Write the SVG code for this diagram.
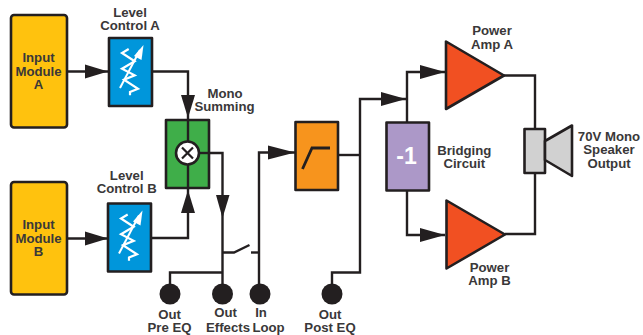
<svg xmlns="http://www.w3.org/2000/svg" width="643" height="335" viewBox="0 0 643 335">
<style>
text{font-family:"Liberation Sans",Arial,sans-serif;font-weight:bold;font-size:13.2px;fill:#3a3839;text-anchor:middle}
.b{stroke:#231f20;stroke-width:2.6;stroke-linejoin:round}
.w{fill:none;stroke:#231f20;stroke-width:2.4}
.a{fill:#231f20;stroke:none}
.j{fill:#231f20}
.r{fill:none;stroke:#fff;stroke-width:2.2}
</style>
<defs>
<g id="res">
<path class="r" d="M128.700 49L122 53L134.700 61.300L122 68.700L134.700 75.300L124 79.700L138 88.700L130 92V95.300"/>
<path d="M120 88L140 50" fill="none" stroke="#fff" stroke-width="2"/>
<path d="M143.500 45L141.500 60L134 56Z" fill="#fff"/>
</g>
</defs>
<g id="connectors">
<path class="w" d="M67 71.500H108"/><path class="a" d="M85 64.500L108 71.500L85 78.500Z"/>
<path class="w" d="M152 71.500H188V120"/><path class="a" d="M181 95H195L188 118Z"/>
<path class="w" d="M67 238.500H108"/><path class="a" d="M85 231.500L108 238.500L85 245.500Z"/>
<path class="w" d="M152 238H188V188"/><path class="a" d="M181 213H195L188 190Z"/>
<path class="w" d="M188 120V188"/>
<path class="w" d="M199 153H222.500V294"/><path class="a" d="M216 195H229.500L222.500 218Z"/>
<path class="w" d="M170 294V272.500H222.500"/>
<path class="w" d="M222.500 252.500H234L249.500 245"/>
<path class="w" d="M251 252.500H259"/>
<path class="w" d="M259 294V152.500H295"/><path class="a" d="M268 145.500L295 152.500L268 159.500Z"/>
<path class="w" d="M338 155H360"/>
<path class="w" d="M332 294V272.500H360V99H407"/><path class="a" d="M381 92L406 99L381 106Z"/>
<path class="w" d="M407 123V72H445"/><path class="a" d="M420 65L445 72L420 79Z"/>
<path class="w" d="M407 190V235H445"/><path class="a" d="M420 228L445 235L420 242Z"/>
<path class="w" d="M504 75.500H535V129"/>
<path class="w" d="M505 234H535V173"/>
</g>
<g id="input-a"><rect class="b" x="11" y="15" width="56" height="112.500" rx="3" fill="#ffc20e"/><text x="38.500" y="62">Input</text><text x="38.500" y="75.500">Module</text><text x="38.500" y="88.500">A</text></g>
<g id="input-b"><rect class="b" x="11" y="182" width="56" height="112.500" rx="3" fill="#ffc20e"/><text x="38.500" y="229">Input</text><text x="38.500" y="242.500">Module</text><text x="38.500" y="255.500">B</text></g>
<g id="level-a"><rect class="b" x="109" y="38" width="43" height="68" fill="#0096db"/><use href="#res"/><text x="130" y="17">Level</text><text x="130" y="29.500">Control A</text></g>
<g id="level-b"><rect class="b" x="108" y="203.500" width="43" height="68" fill="#0096db"/><use href="#res" x="-1" y="165.500"/><text x="126.700" y="180">Level</text><text x="126.700" y="193">Control B</text></g>
<g id="mono-summing"><rect class="b" x="166" y="120" width="43" height="68" fill="#3fae49"/><path class="w" d="M188 120V188"/><path class="w" d="M199 153H209"/><circle cx="187.500" cy="153" r="11.500" fill="#fff" stroke="#231f20" stroke-width="2.600"/><path d="M182 147.500L193 158.500M193 147.500L182 158.500" stroke="#231f20" stroke-width="2.200"/><text x="225" y="98">Mono</text><text x="224.500" y="111">Summing</text></g>
<g id="eq"><rect class="b" x="295.500" y="122" width="42.500" height="68" fill="#f7941d"/><path d="M302.500 169L312 148H330" fill="none" stroke="#231f20" stroke-width="2.800"/></g>
<g id="bridging"><rect class="b" x="386.500" y="122.500" width="42.500" height="68" fill="#ac98c8"/><text x="406.500" y="164" style="font-size:23px;fill:#fff">-1</text><text x="464.300" y="155">Bridging</text><text x="464.300" y="167.700">Circuit</text></g>
<g id="amp-a"><path class="b" d="M446 41.500V109L504 75.500Z" fill="#f15022"/><text x="492" y="35.300">Power</text><text x="492" y="48.700">Amp A</text></g>
<g id="amp-b"><path class="b" d="M446.500 200.500V268.500L505 234.500Z" fill="#f15022"/><text x="489.500" y="272">Power</text><text x="489.500" y="285">Amp B</text></g>
<g id="speaker"><rect class="b" x="524.500" y="129" width="20.500" height="44" fill="#d1d1d1"/><path class="b" d="M545 141L572 125.500V176L545 160Z" fill="#d1d1d1"/><text x="609" y="141">70V Mono</text><text x="609" y="154.300">Speaker</text><text x="609" y="167.700">Output</text></g>
<g id="out-pre"><circle class="j" cx="170" cy="294" r="10.500"/><text x="169.500" y="319">Out</text><text x="169.500" y="332">Pre EQ</text></g>
<g id="out-effects"><circle class="j" cx="222.500" cy="294" r="10.500"/><text x="225.500" y="317">Out</text><text x="228" y="332">Effects</text></g>
<g id="in-loop"><circle class="j" cx="260" cy="294" r="10.500"/><text x="261" y="317">In</text><text x="268.500" y="332">Loop</text></g>
<g id="out-post"><circle class="j" cx="332" cy="294" r="10.500"/><text x="330" y="319">Out</text><text x="330" y="332">Post EQ</text></g>
</svg>
